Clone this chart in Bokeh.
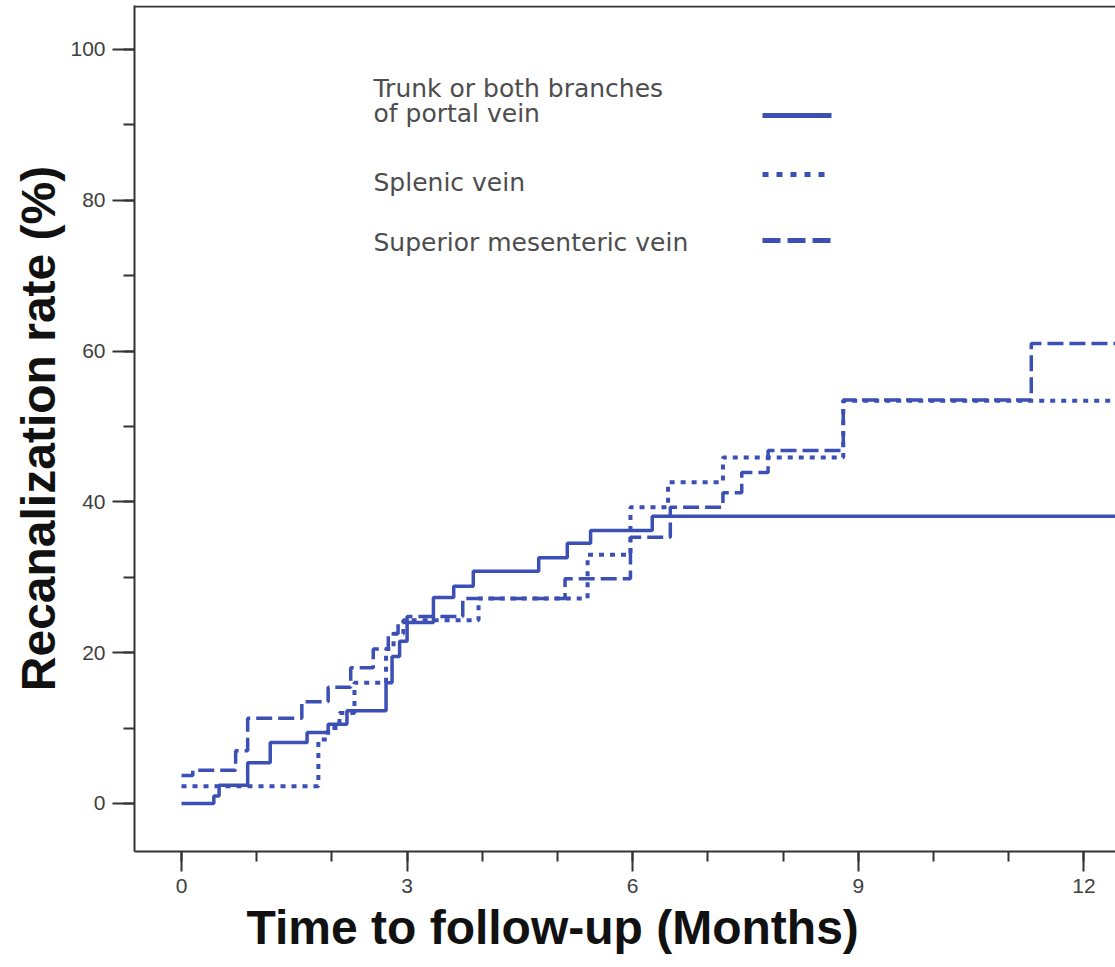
from bokeh.plotting import figure
from bokeh.models import Range1d, SingleIntervalTicker, Label, Span, Title
from bokeh.embed import file_html
from bokeh.resources import INLINE

# ---------------- data ----------------
trunk_t = [0, 0.43, 0.50, 0.88, 1.18, 1.67, 1.95, 2.20, 2.72, 2.80, 2.90, 3.00,
           3.35, 3.62, 3.88, 4.75, 5.13, 5.44, 6.26, 12.5]
trunk_v = [0, 1.0, 2.4, 5.4, 8.1, 9.4, 10.5, 12.3, 16.0, 19.5, 21.5, 24.0,
           27.3, 28.8, 30.8, 32.6, 34.5, 36.2, 38.1, 38.1]

splenic_t = [0, 1.82, 1.95, 2.10, 2.30, 2.72, 2.82, 2.95, 3.95, 5.40, 5.97,
             6.47, 7.20, 8.80, 12.5]
splenic_v = [2.3, 8.5, 10.0, 12.0, 16.0, 20.5, 22.5, 24.3, 27.2, 33.0, 39.3,
             42.6, 45.9, 53.4, 53.4]

smv_t = [0, 0.15, 0.72, 0.88, 1.60, 1.95, 2.25, 2.55, 2.75, 2.88, 3.00, 3.74,
         5.10, 5.97, 6.50, 7.20, 7.45, 7.80, 8.80, 11.30, 12.5]
smv_v = [3.7, 4.4, 7.0, 11.3, 13.5, 15.4, 18.0, 20.5, 22.5, 24.0, 24.8, 27.2,
         29.8, 35.3, 39.3, 41.2, 43.9, 46.8, 53.5, 61.0, 61.0]

series_names = ["Trunk or both branches\nof portal vein", "Splenic vein",
                "Superior mesenteric vein"]
x_ticks_interval = 3
y_ticks_interval = 20

# ---------------- layout ----------------
W, H = 1115, 967
FL, FT, FB = 134, 5, 851          # frame left / top / bottom in pixels
X0, X1 = -0.625, 12.42
Y0, Y1 = -6.37, 105.83
PPX = (W - FL) / (X1 - X0)
PPY = (FB - FT) / (Y1 - Y0)


def sx(px):
    return X0 + (px - FL) / PPX


def sy(py):
    return Y1 - (py - FT) / PPY


BLUE = "#3b4fb5"
AX = "#333333"

p = figure(width=W, height=H, output_backend="svg", toolbar_location=None,
           x_range=Range1d(X0, X1), y_range=Range1d(Y0, Y1),
           min_border_left=FL, min_border_top=FT, min_border_right=0,
           min_border_bottom=H - FB)
p.grid.visible = False
p.outline_line_color = None
p.background_fill_color = "white"
p.border_fill_color = "white"

# top frame line
p.add_layout(Span(location=Y1 - 0.12, dimension="width", line_color=AX, line_width=2))

# axes
xa = p.xaxis[0]
xa.ticker = SingleIntervalTicker(interval=x_ticks_interval, num_minor_ticks=3)
xa.major_tick_out = 20
xa.major_tick_in = 0
xa.minor_tick_out = 10
xa.minor_tick_in = 0
xa.axis_line_width = 2
xa.axis_line_color = AX
xa.major_tick_line_color = AX
xa.minor_tick_line_color = AX
xa.major_tick_line_width = 2
xa.minor_tick_line_width = 2
xa.major_label_text_font = "Liberation Sans"
xa.major_label_text_font_size = "21px"
xa.major_label_text_color = "#404040"
xa.major_label_standoff = 7

ya = p.yaxis[0]
ya.ticker = SingleIntervalTicker(interval=y_ticks_interval, num_minor_ticks=2)
ya.major_tick_out = 22
ya.major_tick_in = 0
ya.minor_tick_out = 11
ya.minor_tick_in = 0
ya.axis_line_width = 2
ya.axis_line_color = AX
ya.major_tick_line_color = AX
ya.minor_tick_line_color = AX
ya.major_tick_line_width = 2
ya.minor_tick_line_width = 2
ya.major_label_text_font = "Liberation Sans"
ya.major_label_text_font_size = "21px"
ya.major_label_text_color = "#404040"
ya.major_label_standoff = 7
ya.axis_label = "Recanalization rate (%)"
ya.axis_label_text_font = "Liberation Sans"
ya.axis_label_text_font_style = "bold"
ya.axis_label_text_font_size = "48px"
ya.axis_label_text_color = "#111111"
ya.axis_label_standoff = 2

# curves
p.step(trunk_t, trunk_v, mode="after", line_color=BLUE, line_width=3.5)
p.step(splenic_t, splenic_v, mode="after", line_color=BLUE, line_width=4,
       line_dash="5 6")
p.step(smv_t, smv_v, mode="after", line_color=BLUE, line_width=3.5,
       line_dash="16 6")

# x axis title (left-aligned with an offset so it sits where the original does)
p.add_layout(Title(text="Time to follow-up (Months)", align="left", offset=112,
                   text_font="Liberation Sans", text_font_style="bold",
                   text_font_size="48px", text_color="#111111", standoff=6),
             "below")

# legend (labels on the left, samples on the right)
LEG_FONT = "DejaVu Sans"
LEG_SIZE = "25px"
LEG_COL = "#4d4d4d"
name_lines = series_names[0].split("\n")
for txt, py in [(name_lines[0], 88), (name_lines[1], 113),
                (series_names[1], 182), (series_names[2], 242)]:
    p.add_layout(Label(x=sx(373), y=sy(py), text=txt, text_align="left",
                       text_baseline="middle", text_font=LEG_FONT,
                       text_font_size=LEG_SIZE, text_color=LEG_COL))

p.line([sx(762), sx(831)], [sy(115), sy(115)], line_color=BLUE, line_width=5)
p.line([sx(762), sx(831)], [sy(174), sy(174)], line_color=BLUE, line_width=5,
       line_dash="6 8")
p.line([sx(762), sx(831)], [sy(240), sy(240)], line_color=BLUE, line_width=5,
       line_dash="18 7")

open("out.html", "w").write(file_html(p, INLINE))
